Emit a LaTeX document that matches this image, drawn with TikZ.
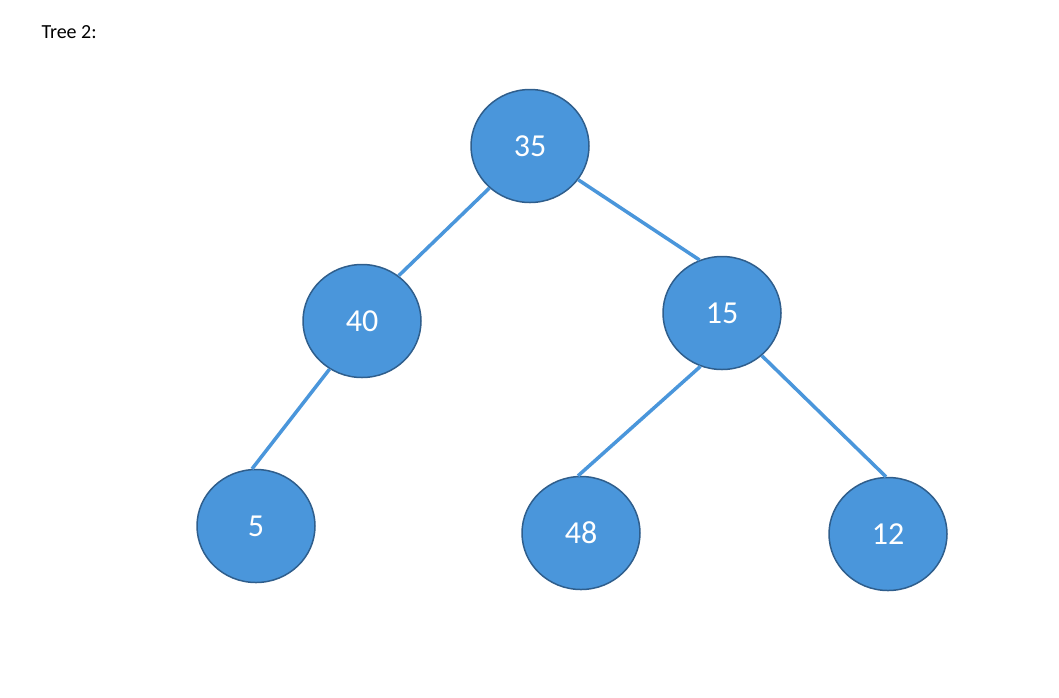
\documentclass[tikz,border=0pt]{standalone}
\usepackage{fontspec}
\setmainfont{Carlito}
\usetikzlibrary{shapes.geometric}
\definecolor{nfill}{HTML}{4A96DB}
\definecolor{nbord}{HTML}{2F5E8C}
\definecolor{edge}{HTML}{4A96DB}
\begin{document}
\begin{tikzpicture}[x=1pt,y=-1pt,
  tn/.style={ellipse,draw=nbord,line width=1.5pt,fill=nfill,minimum width=118pt,minimum height=113pt,inner sep=0pt,text=white,font=\fontsize{32}{36}\selectfont},
  ed/.style={draw=edge,line width=3.5pt}]
\useasboundingbox (0,0) rectangle (1059,697);
\node[anchor=west,font=\fontsize{20}{24}\selectfont] (title) at (38,32) {Tree 2:};
\node[tn] (a) at (530,146) {35};
\node[tn] (b) at (362,321) {40};
\node[tn] (c) at (722,313) {15};
\node[tn] (d) at (256,526) {5};
\node[tn] (e) at (581,533) {48};
\node[tn] (f) at (888,534) {12};
\draw[ed] (a.-134) -- (b.51);
\draw[ed] (a.-35) -- (c.113);
\draw[ed] (b.-124) -- (d.94);
\draw[ed] (c.-112) -- (e.93);
\draw[ed] (c.-47) -- (f.92);
\end{tikzpicture}
\end{document}
